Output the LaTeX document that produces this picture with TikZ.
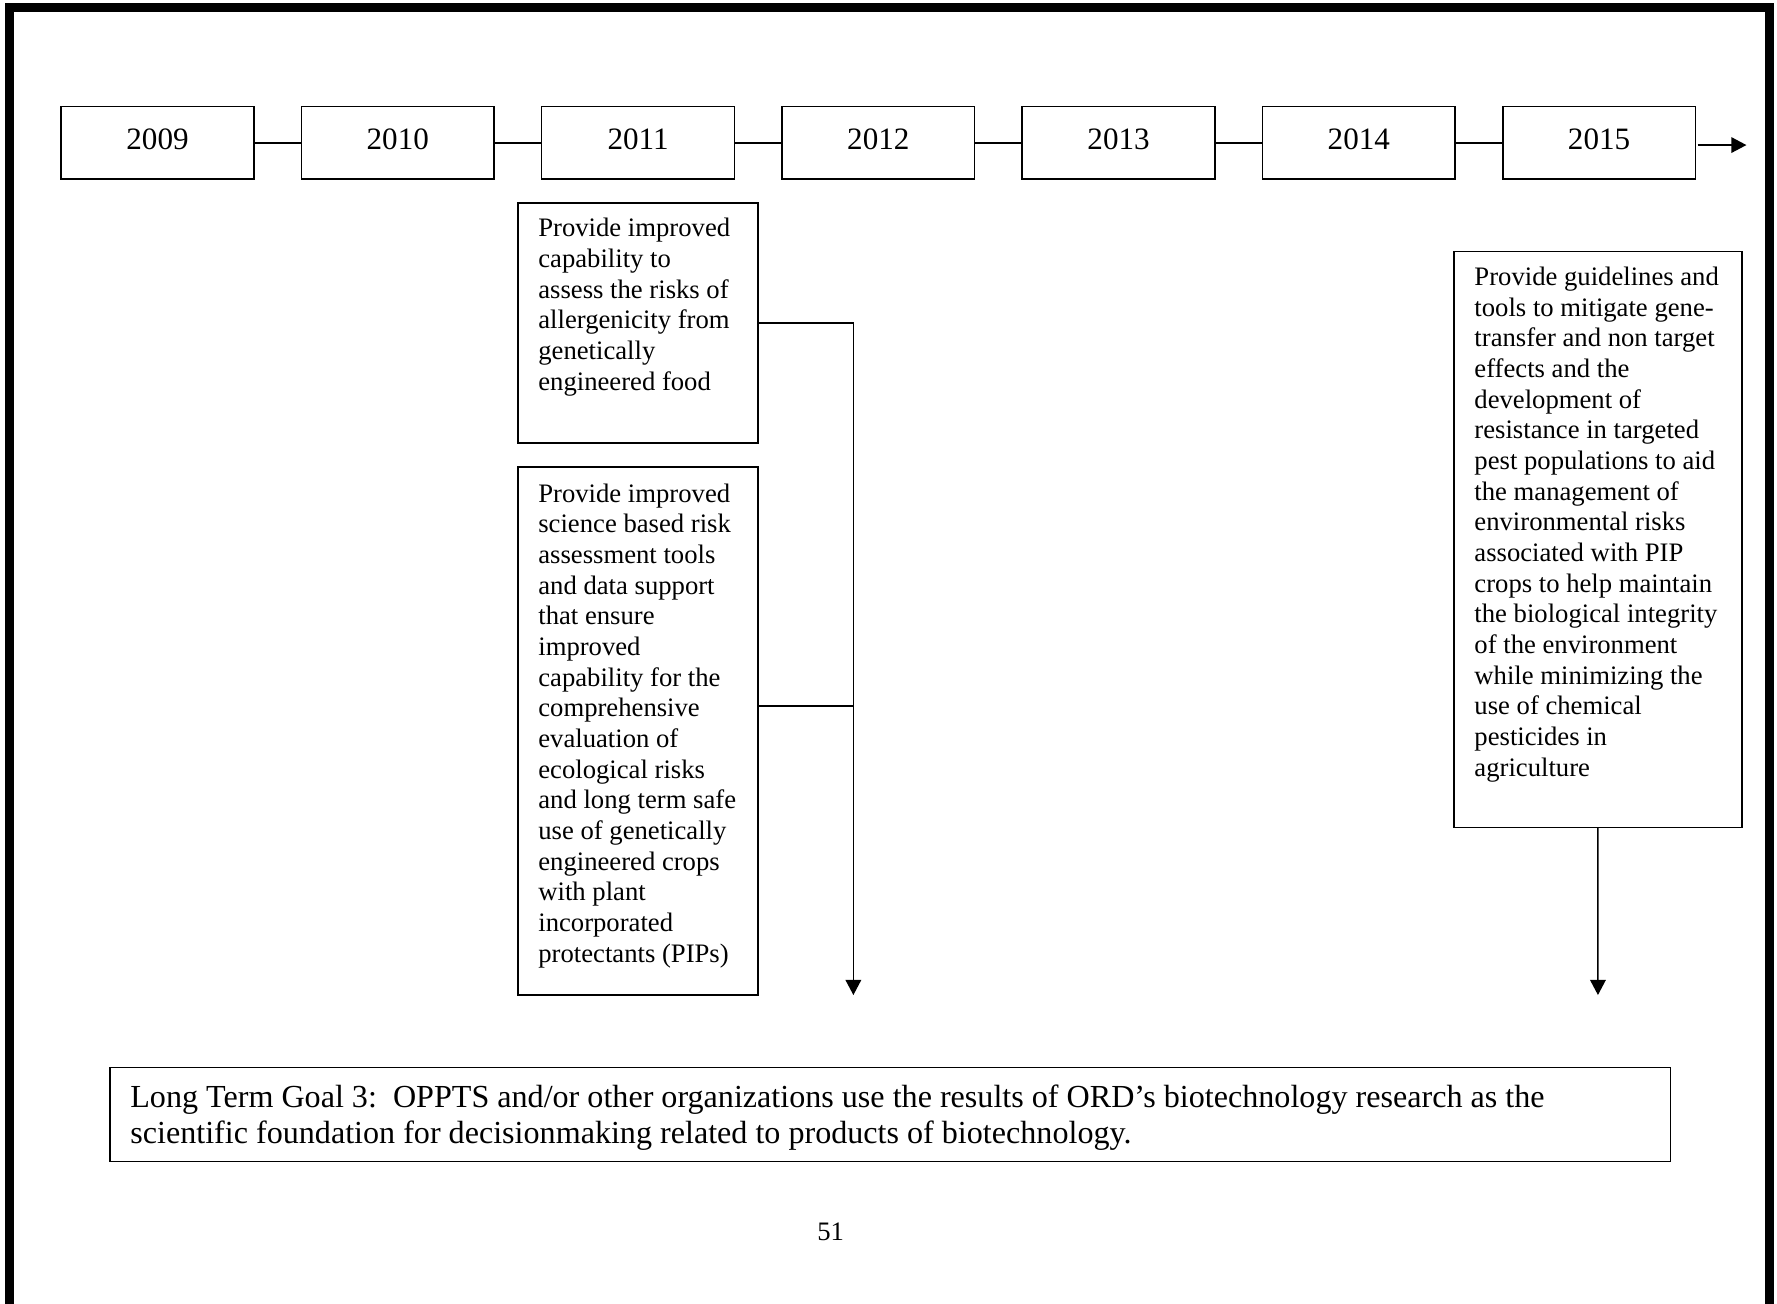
\documentclass[tikz,border=0pt]{standalone}
\usepackage{fontspec}
\setmainfont{Liberation Serif}
\usetikzlibrary{arrows.meta}
\newcommand{\boxtxt}[4]{\parbox[c][#1][t]{#2}{\raggedright\rule{0pt}{#3}#4}}
\begin{document}
\begin{tikzpicture}[x=0.51pt,y=-0.51pt,line width=0.7pt,
	yrbox/.style={draw,inner sep=0pt,outer sep=0pt,minimum width=86.7pt,minimum height=32.6pt,font=\fontsize{14}{16.1}\selectfont},
	tbox/.style={draw,anchor=north west,inner xsep=9.2pt,inner ysep=0pt,outer sep=0pt,font=\fontsize{12}{13.8}\selectfont},
	tip/.style={-{Triangle[length=6.8pt,width=7pt]}}]
	\useasboundingbox (0,0) rectangle (1568,1150);
	% page frame, open at the bottom
	\draw[line width=4pt,line join=miter] (8.5,1170) |- (1561.5,6.5) -- (1561.5,1170);
	% time line
	\foreach \yr [count=\i from 0] in {2009,...,2015}{
	\node[yrbox] (y\yr) at ({139+212*\i},126) {\raisebox{3pt}{\yr}};
	}
	\foreach \yr in {2010,...,2015}{
	\pgfmathtruncatemacro\pr{\yr-1}
	\draw (y\pr) -- (y\yr);
	}
	\path (1541,128) coordinate (tl)
	(753,878) coordinate (b1)
	(1410,878) coordinate (b2);
	\draw[tip] (y2015.east |- tl) ++(2,0) -- (tl);
	% outputs
	\node[tbox] (alrg) at (457,179) {\boxtxt{108.1pt}{89.7pt}{15.3pt}{Provide improved\\ capability to\\ assess the risks of\\ allergenicity from\\ genetically\\ engineered food}};
	\node[tbox] (eco) at (457,412) {\boxtxt{237.7pt}{89.7pt}{15.8pt}{Provide improved\\ science based risk\\ assessment tools\\ and data support\\ that ensure\\ improved\\ capability for the\\ comprehensive\\ evaluation of\\ ecological risks\\ and long term safe\\ use of genetically\\ engineered crops\\ with plant\\ incorporated\\ protectants (PIPs)}};
	\node[tbox] (pest) at (1283,222) {\boxtxt{259.1pt}{111.1pt}{15.3pt}{Provide guidelines and\\ tools to mitigate gene-\\ transfer and non target\\ effects and the\\ development of\\ resistance in targeted\\ pest populations to aid\\ the management of\\ environmental risks\\ associated with PIP\\ crops to help maintain\\ the biological integrity\\ of the environment\\ while minimizing the\\ use of chemical\\ pesticides in\\ agriculture}};
	\draw[tip] (alrg.east) -| (b1);
	\draw ([yshift=11.2pt]eco.east) -- ([yshift=11.2pt]eco.east -| b1);
	\draw[tip] (pest.south) -- (b2);
	% goal
	\node[tbox,font=\fontsize{14.45}{16.3}\selectfont] (goal) at (97,942) {\boxtxt{42.3pt}{683.9pt}{17.8pt}{Long Term Goal 3:\ \ OPPTS and/or other organizations use the results of ORD’s biotechnology research as the\\ scientific foundation for decisionmaking related to products of biotechnology.}};
	\node[font=\fontsize{12}{13.8}\selectfont] (pg) at (733,1087) {51};
\end{tikzpicture}
\end{document}
